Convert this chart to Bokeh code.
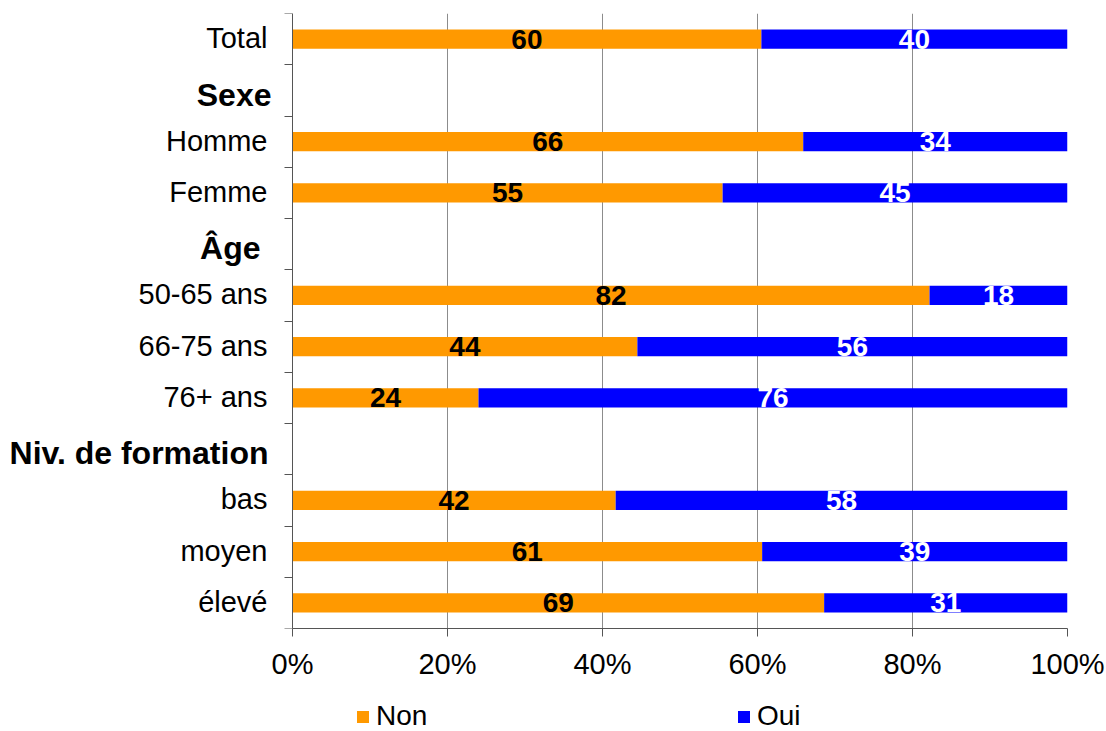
from bokeh.plotting import figure
from bokeh.layouts import column
from bokeh.models import (Range1d, FixedTicker, PrintfTickFormatter, Legend,
                          LegendItem, ColumnDataSource, LinearAxis)
from bokeh.core.properties import value
from bokeh.embed import file_html
from bokeh.resources import INLINE

# ---- data ----
rows = ["Total", "Sexe", "Homme", "Femme", "Âge", "50-65 ans", "66-75 ans", "76+ ans",
        "Niv. de formation", "bas", "moyen", "élevé"]
headers = ["Sexe", "Âge", "Niv. de formation"]
groups = ["Total", "Homme", "Femme", "50-65 ans", "66-75 ans", "76+ ans", "bas", "moyen", "élevé"]
non = [60.5, 65.9, 55.5, 82.2, 44.5, 24.0, 41.7, 60.6, 68.6]
oui = [39.5, 34.1, 44.5, 17.8, 55.5, 76.0, 58.3, 39.4, 31.4]
non_labels = ["60", "66", "55", "82", "44", "24", "42", "61", "69"]
oui_labels = ["40", "34", "45", "18", "56", "76", "58", "39", "31"]
series = ["Non", "Oui"]
x_ticks = [0, 20, 40, 60, 80, 100]

FONT = "Liberation Sans"
ORANGE = "#FF9900"
BLUE = "#0000FF"
AXIS_C = "#555555"
GRID_C = "#8c8c8c"

# layout constants (pixels)
W = 1106
H_MAIN, H_LEG = 690, 41
AXIS_X = 292      # where 0% sits
FRAME_R = 1067    # where 100% sits
x_start = -AXIS_X / (FRAME_R - AXIS_X) * 100.0

ypos = [rows.index(g) for g in groups]
src = ColumnDataSource(dict(
    y=ypos,
    non_end=non,
    oui_end=[a + b for a, b in zip(non, oui)],
    non_mid=[a / 2 for a in non],
    oui_mid=[a + b / 2 for a, b in zip(non, oui)],
    non_lab=non_labels,
    oui_lab=oui_labels,
))

normal_rows = [r for r in rows if r not in headers]
lab_src = ColumnDataSource(dict(
    y=[rows.index(r) for r in normal_rows],
    x=[0] * len(normal_rows),
    text=normal_rows,
))
head_dx = {"Sexe": -21, "Âge": -32, "Niv. de formation": -24}
head_dy = {"Sexe": 5, "Âge": 4, "Niv. de formation": 4}
head_src = ColumnDataSource(dict(
    y=[rows.index(h) for h in headers],
    x=[0] * len(headers),
    text=headers,
    dx=[head_dx[h] for h in headers],
    dy=[head_dy[h] for h in headers],
))

p = figure(width=W, height=H_MAIN, output_backend="svg", toolbar_location=None,
           x_range=Range1d(x_start, 100), y_range=Range1d(len(rows) - 0.5, -0.5),
           y_axis_location=None,
           min_border_left=0, min_border_right=W - FRAME_R,
           min_border_top=13, min_border_bottom=H_MAIN - 628)
p.outline_line_color = None
p.background_fill_color = "white"
p.border_fill_color = "white"

r_non = p.hbar(y="y", left=0, right="non_end", height=0.38, source=src,
               fill_color=ORANGE, line_color=None)
r_oui = p.hbar(y="y", left="non_end", right="oui_end", height=0.38, source=src,
               fill_color=BLUE, line_color=None)

p.text(x="non_mid", y="y", text="non_lab", source=src, text_font=value(FONT),
       text_font_size="28px", text_font_style="bold", text_color="black",
       text_align="center", text_baseline="middle")
p.text(x="oui_mid", y="y", text="oui_lab", source=src, text_font=value(FONT),
       text_font_size="28px", text_font_style="bold", text_color="white",
       text_align="center", text_baseline="middle")

# row labels
p.text(x="x", y="y", text="text", source=lab_src, x_offset=-25, y_offset=-1,
       text_font=value(FONT), text_font_size="29px", text_color="black",
       text_align="right", text_baseline="middle")
p.text(x="x", y="y", text="text", source=head_src, x_offset="dx", y_offset="dy",
       text_font=value(FONT), text_font_size="32px", text_font_style="bold",
       text_color="black", text_align="right", text_baseline="middle")

# x axis
p.xaxis.ticker = FixedTicker(ticks=x_ticks, minor_ticks=[])
p.xaxis.bounds = (0, 100)
p.xaxis.formatter = PrintfTickFormatter(format="%d%%")
p.xaxis.major_label_text_font = FONT
p.xaxis.major_label_text_font_size = "29px"
p.xaxis.major_label_text_color = "black"
p.xaxis.major_tick_out = 8
p.xaxis.major_tick_in = 0
p.xaxis.minor_tick_out = 0
p.xaxis.major_label_standoff = 11
p.xaxis.axis_line_color = AXIS_C
p.xaxis.major_tick_line_color = AXIS_C

# y axis: drawn at x = 0, ticks pointing left between the rows (minor ticks, no labels)
yax = LinearAxis(fixed_location=0,
                 ticker=FixedTicker(ticks=[], minor_ticks=[i - 0.5 for i in range(len(rows) + 1)]),
                 major_tick_in=0, major_tick_out=0, minor_tick_in=8, minor_tick_out=0,
                 major_label_standoff=0,
                 axis_line_color=AXIS_C, minor_tick_line_color=AXIS_C)
p.add_layout(yax, "right")

p.xgrid.ticker = FixedTicker(ticks=x_ticks)
p.xgrid.grid_line_color = GRID_C
p.ygrid.grid_line_color = None

# ---- legend strip (same series; renderers hidden, only their legend swatches shown) ----
p2 = figure(width=W, height=H_LEG, output_backend="svg", toolbar_location=None,
            x_range=Range1d(0, 100), y_range=Range1d(-0.5, 0.5),
            x_axis_location=None, y_axis_location=None, min_border=0)
p2.outline_line_color = None
p2.grid.visible = False
l_non = p2.hbar(y="y", left=0, right="non_end", height=0.38, source=src,
                fill_color=ORANGE, line_color=None, visible=False)
l_oui = p2.hbar(y="y", left="non_end", right="oui_end", height=0.38, source=src,
                fill_color=BLUE, line_color=None, visible=False)
legend = Legend(items=[LegendItem(label=series[0], renderers=[l_non]),
                       LegendItem(label=series[1], renderers=[l_oui])],
                orientation="horizontal", location=(355, -1), spacing=0,
                label_width=360,
                glyph_width=15, glyph_height=15, label_standoff=6,
                label_text_font=FONT, label_text_font_size="28px",
                label_text_color="black",
                inactive_fill_alpha=0,
                border_line_color=None, background_fill_alpha=0,
                padding=2, margin=0)
p2.add_layout(legend)

open("out.html", "w").write(file_html(column(p, p2, spacing=0), INLINE))
